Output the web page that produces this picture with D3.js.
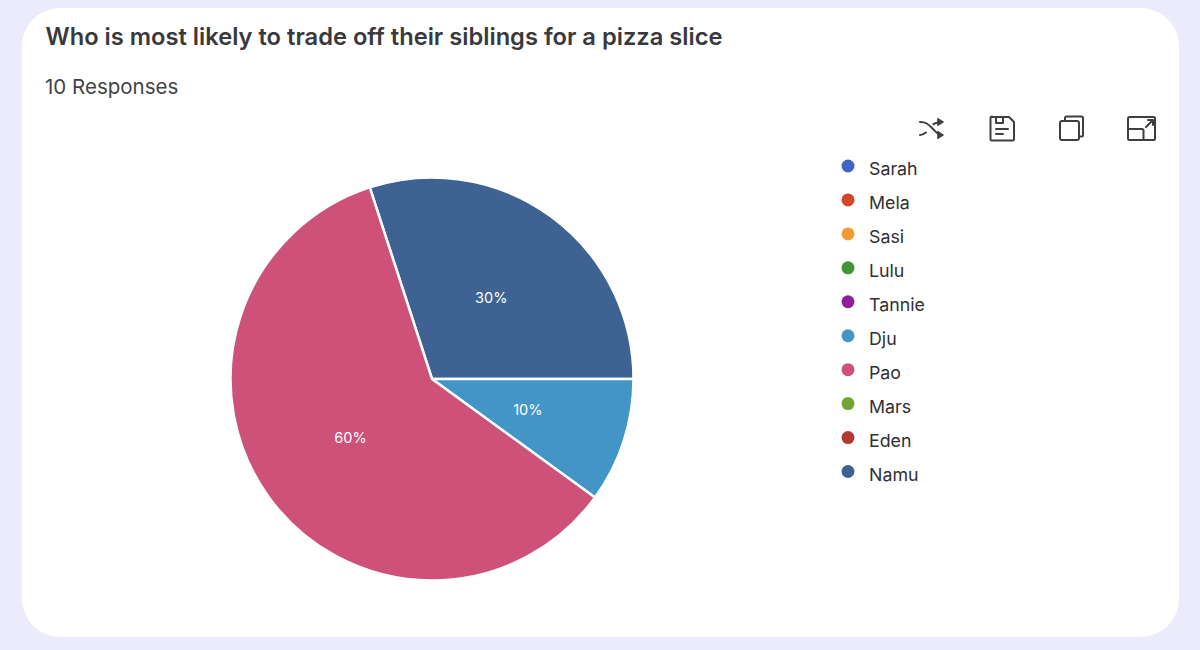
<!DOCTYPE html>
<html><head><meta charset="utf-8">
<script src="https://cdn.jsdelivr.net/npm/d3@7"></script>
<style>html,body{margin:0;padding:0;background:#ecebfb;overflow:hidden}svg{display:block}text{font-family:Inter,"Noto Sans",sans-serif}</style>
</head><body><svg id="c" width="1200" height="650"></svg>
<script>
const categories=["Sarah","Mela","Sasi","Lulu","Tannie","Dju","Pao","Mars","Eden","Namu"];
const responses=[0,0,0,0,0,1,6,0,0,3];
const colors=["#3f66c4","#d4462a","#f29b35","#3f9636","#8e1f98","#4295c4","#cd5179","#72a52f","#b23a30","#3e6392"];
const pieOrder=["Namu","Dju","Pao"];
const title="Who is most likely to trade off their siblings for a pizza slice";
const subtitle="10 Responses";

const svg=d3.select("#c");
svg.append("rect").attr("x",22).attr("y",8).attr("width",1157).attr("height",629).attr("rx",38).attr("fill","#fff");
svg.append("text").attr("x",45.500).attr("y",45).attr("font-size",23.700).attr("font-weight",600).attr("fill","#39393d").text(title);
svg.append("text").attr("x",45).attr("y",94).attr("font-size",20.500).attr("fill","#434347").text(subtitle);

const cx=432,cy=379,R=201.500;
const color=d3.scaleOrdinal(categories,colors);
const val=n=>responses[categories.indexOf(n)];
const total=d3.sum(responses);
const pie=d3.pie().sort(null).value(val).startAngle(0).endAngle(2*Math.PI);
const arcs=pie(pieOrder);
const rot=Math.PI/2-arcs[0].endAngle;
const g=svg.append("g").attr("transform",`translate(${cx},${cy})`);
const arc=d3.arc().innerRadius(0).outerRadius(R);
const shifted=arcs.map(a=>({...a,startAngle:a.startAngle+rot,endAngle:a.endAngle+rot}));
g.selectAll("path").data(shifted).join("path").attr("d",arc).attr("fill",d=>color(d.data)).attr("stroke","#fff").attr("stroke-width",2.500);
const lab=d3.arc().innerRadius(R*0.5).outerRadius(R*0.5);
g.selectAll("text").data(shifted).join("text")
 .attr("transform",d=>`translate(${lab.centroid(d)})`)
 .attr("text-anchor","middle").attr("dy","0.36em").attr("font-size",14.500).attr("fill","#fff")
 .text(d=>Math.round(val(d.data)/total*100)+"%");

const y=d3.scalePoint().domain(categories).range([168,473.5]);
const leg=svg.append("g");
leg.selectAll("circle").data(categories).join("circle").attr("cx",848).attr("cy",d=>y(d)-2).attr("r",6.500).attr("fill",d=>color(d));
leg.selectAll("text").data(categories).join("text").attr("x",869).attr("y",d=>y(d)+7).attr("font-size",17.800).attr("fill","#2f2f34").text(d=>d);

const ic=svg.append("g").attr("fill","none").attr("stroke","#3f3f43").attr("stroke-width",2).attr("stroke-linecap","round").attr("stroke-linejoin","round");
// shuffle
ic.append("path").attr("d","M920 122c6 0 8 2 12 6s6 7 9 7M920 135c2 0 4-1 6-2.500M933.500 124c2-1 4-2 8-2");
ic.append("path").attr("fill","#3f3f43").attr("stroke-width",1).attr("d","M938 118.500l5.500 3.500-5.500 3.500zM938 131.500l5.500 3.500-5.500 3.500z");
// save
ic.append("path").attr("d","M992 117h17l5 5v17a1.500 1.500 0 0 1-1.500 1.500h-20.500a1.500 1.500 0 0 1-1.500-1.500v-21a1.500 1.500 0 0 1 1.500-1.500zM996 117v6h7v-6M996 129h12M996 134h7");
// copy
ic.append("rect").attr("x",1060).attr("y",121).attr("width",19).attr("height",19).attr("rx",2);
ic.append("path").attr("d","M1065 121v-3a1.500 1.500 0 0 1 1.500-1.500h15a1.500 1.500 0 0 1 1.500 1.500v17a1.500 1.500 0 0 1-1.500 1.500h-2.500");
// expand
ic.append("rect").attr("x",1128).attr("y",117).attr("width",27).attr("height",23).attr("rx",1.500);
ic.append("path").attr("d","M1128 129h14a1.500 1.500 0 0 1 1.500 1.500v9.500M1146 127l7-7M1148 120h5v5");
</script></body></html>
